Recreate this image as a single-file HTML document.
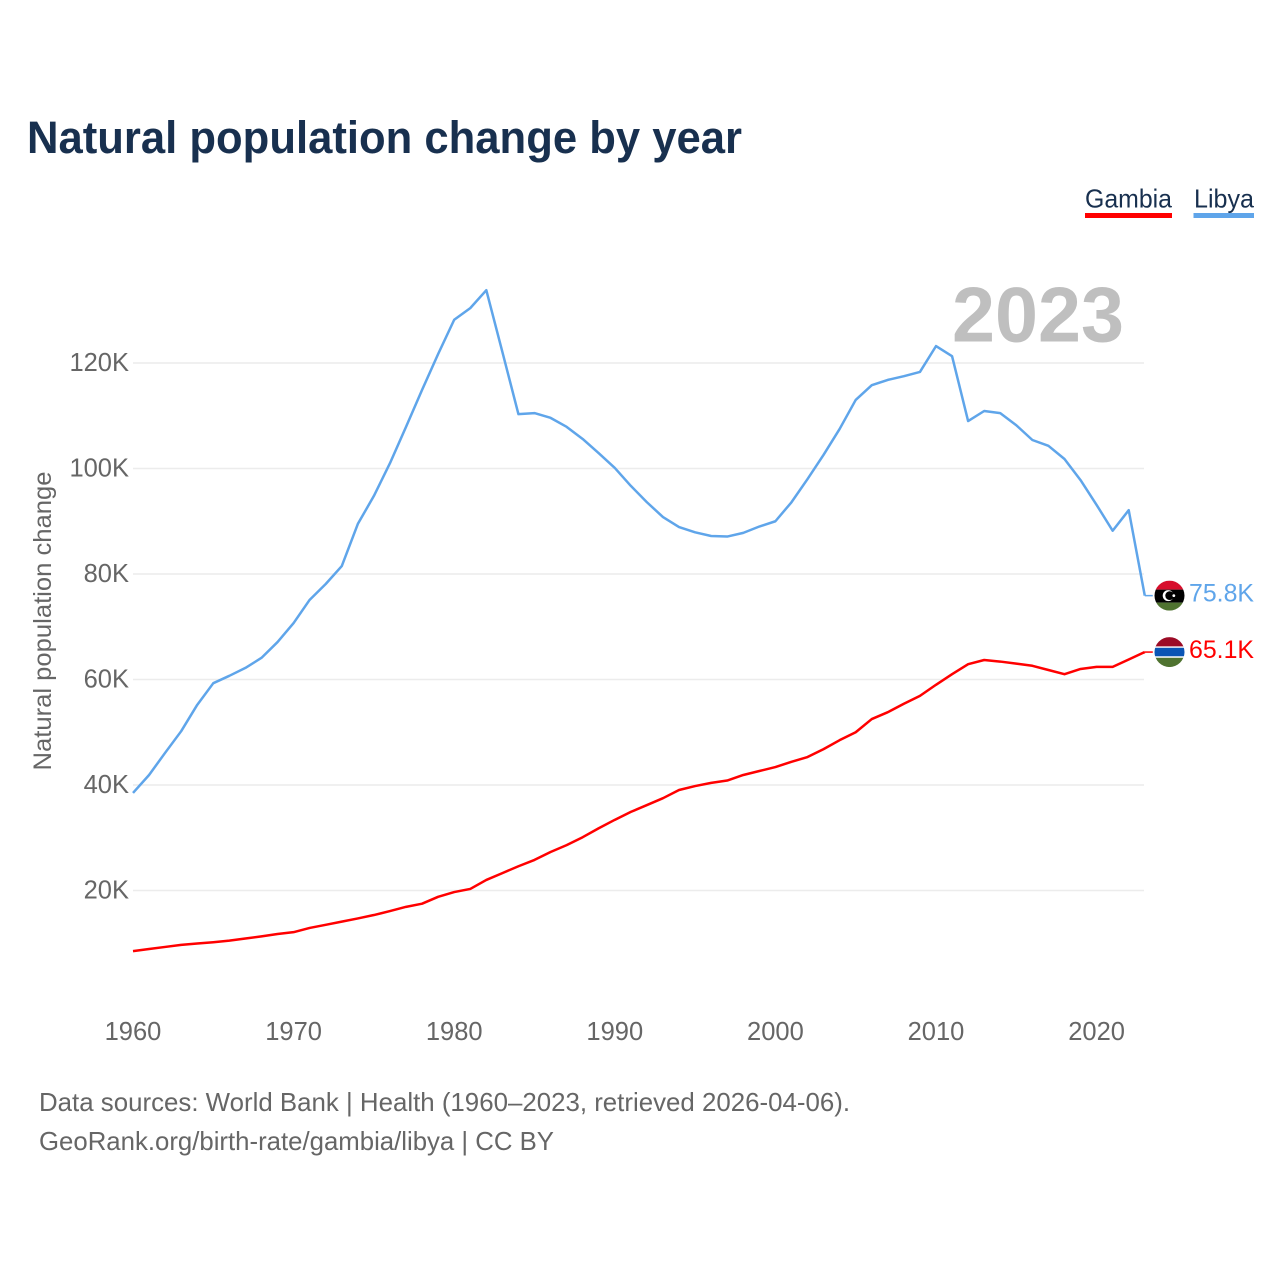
<!DOCTYPE html>
<html>
<head>
<meta charset="utf-8">
<title>Natural population change by year</title>
<style>
html,body{margin:0;padding:0;background:#fff;}
svg{display:block;font-family:"Liberation Sans",sans-serif;}
</style>
</head>
<body>
<svg id="chart" xmlns="http://www.w3.org/2000/svg" width="1280" height="1280" viewBox="0 0 1280 1280">
  <rect x="0" y="0" width="1280" height="1280" fill="#ffffff"/>
  <text x="27" y="153" font-size="45" font-weight="bold" fill="#18304f" textLength="715" lengthAdjust="spacingAndGlyphs">Natural population change by year</text>

  <g>
    <text x="1085" y="207.500" font-size="26" fill="#18304f" textLength="87" lengthAdjust="spacingAndGlyphs">Gambia</text>
    <rect x="1085" y="213" width="87" height="5" fill="#ff0000"/>
  </g>
  <g>
    <text x="1194" y="207.500" font-size="26" fill="#18304f" textLength="60" lengthAdjust="spacingAndGlyphs">Libya</text>
    <rect x="1193.500" y="213" width="60.500" height="5" fill="#5fa5ea"/>
  </g>

  <g id="grid"></g>
  <g id="yticks"></g>
  <g id="xticks"></g>

  <text transform="translate(51 621) rotate(-90)" text-anchor="middle" font-size="25" fill="#666666" textLength="299" lengthAdjust="spacingAndGlyphs">Natural population change</text>

  <text x="1124" y="341.500" text-anchor="end" font-size="78" font-weight="bold" fill="#bfbfbf" textLength="172" lengthAdjust="spacingAndGlyphs">2023</text>

  <g id="series"></g>

  <defs>
    <clipPath id="libya-clip"><circle cx="0" cy="0" r="15"/></clipPath>
    <clipPath id="gambia-clip"><circle cx="0" cy="0" r="15"/></clipPath>
  </defs>

  <g id="flag-libya">
    <g clip-path="url(#libya-clip)">
      <rect x="-15" y="-15" width="30" height="9" fill="#d70e2c"/>
      <rect x="-15" y="-6" width="30" height="13" fill="#000000"/>
      <rect x="-15" y="7" width="30" height="8" fill="#4f7330"/>
      <circle cx="-1.300" cy="0" r="5.500" fill="#ffffff"/>
      <circle cx="0.200" cy="0" r="4.400" fill="#000000"/>
      <circle cx="4.300" cy="0" r="1.400" fill="#ffffff"/>
    </g>
  </g>
  <g id="flag-gambia">
    <g clip-path="url(#gambia-clip)">
      <rect x="-15" y="-15" width="30" height="9.500" fill="#9c0b26"/>
      <rect x="-15" y="-5.700" width="30" height="1.400" fill="#ffffff"/>
      <rect x="-15" y="-4.300" width="30" height="8.600" fill="#0a55b5"/>
      <rect x="-15" y="4.300" width="30" height="1.400" fill="#ffffff"/>
      <rect x="-15" y="5.700" width="30" height="9.300" fill="#4f7330"/>
    </g>
  </g>

  <text x="39" y="1111" font-size="26" fill="#666666" textLength="811" lengthAdjust="spacingAndGlyphs">Data sources: World Bank | Health (1960–2023, retrieved 2026-04-06).</text>
  <text x="39" y="1150" font-size="26" fill="#666666" textLength="515" lengthAdjust="spacingAndGlyphs">GeoRank.org/birth-rate/gambia/libya | CC BY</text>
</svg>
<script>
const firstYear = 1960;
const libyaValues = [38.5,41.9,46.1,50.2,55.2,59.3,60.7,62.2,64.1,67.1,70.7,75.1,78.1,81.5,89.5,94.8,101.0,107.9,114.9,121.7,128.2,130.4,133.8,122.1,110.3,110.5,109.6,107.9,105.6,102.9,100.1,96.7,93.6,90.8,88.9,87.9,87.2,87.1,87.8,89.0,90.0,93.6,98.0,102.6,107.5,113.0,115.8,116.8,117.5,118.3,123.2,121.3,109.0,110.9,110.5,108.2,105.4,104.3,101.8,97.8,93.1,88.2,92.1,75.9];
const gambiaValues = [8.5,8.9,9.3,9.7,9.95,10.2,10.5,10.9,11.3,11.75,12.1,12.9,13.5,14.1,14.7,15.35,16.1,16.9,17.5,18.8,19.7,20.3,22.0,23.3,24.6,25.8,27.3,28.6,30.1,31.8,33.4,34.9,36.2,37.5,39.05,39.8,40.4,40.85,41.9,42.65,43.4,44.4,45.3,46.8,48.5,50.0,52.5,53.8,55.4,56.9,59.0,61.0,62.9,63.7,63.4,63.0,62.6,61.8,61.0,62.0,62.4,62.4,63.8,65.2];
const yTickValues = [20,40,60,80,100,120];
const xTickYears = [1960,1970,1980,1990,2000,2010,2020];
const libyaLabel = '75.8K';
const gambiaLabel = '65.1K';

const NS = 'http://www.w3.org/2000/svg';
function xScale(year){ return 133 + (year - 1960) * 16.06; }
function yScale(v){ return 996 - v * 5.275; }
function make(tag, attrs, parent, text){
  const el = document.createElementNS(NS, tag);
  for (const k in attrs) el.setAttribute(k, attrs[k]);
  if (text !== undefined) el.textContent = text;
  parent.appendChild(el);
  return el;
}
const grid = document.getElementById('grid');
const yticks = document.getElementById('yticks');
const xticks = document.getElementById('xticks');
const series = document.getElementById('series');

yTickValues.forEach(function(v){
  const line = make('line', {x1:133, x2:1144, y1:yScale(v), y2:yScale(v), stroke:'#ececec', 'stroke-width':1.500}, grid);
  
  
  const label = make('text', {x:129, y:yScale(v)+7.800, 'text-anchor':'end', 'font-size':25.500, fill:'#666666'}, yticks, v + 'K');
  
  
});
xTickYears.forEach(function(y){
  const label = make('text', {x:xScale(y), y:1040, 'text-anchor':'middle', 'font-size':25.500, fill:'#666666'}, xticks, String(y));
  
  
});

function drawSeries(values, color, key, flagId, labelText){
  const pts = values.map(function(v,i){ return xScale(firstYear+i).toFixed(2) + ',' + yScale(v).toFixed(2); });
  const path = make('polyline', {points:pts.join(' '), fill:'none', stroke:color, 'stroke-width':2.500, 'stroke-linejoin':'round'}, series);
  
  
  const last = values[values.length-1];
  const lx = xScale(firstYear+values.length-1);
  const ly = yScale(last);
  const conn = make('line', {x1:lx, x2:lx+8, y1:ly, y2:ly, stroke:color, 'stroke-width':1.500}, series);
  
  
  document.getElementById(flagId).setAttribute('transform', 'translate(1169.500 ' + ly.toFixed(2) + ')');
  const label = make('text', {x:1254, y:ly+6, 'text-anchor':'end', 'font-size':25, fill:color, textLength:65, lengthAdjust:'spacingAndGlyphs'}, series, labelText);
  
  
}
drawSeries(libyaValues, '#5fa5ea', 'libya', 'flag-libya', libyaLabel);
drawSeries(gambiaValues, '#ff0000', 'gambia', 'flag-gambia', gambiaLabel);
</script>
</body>
</html>
